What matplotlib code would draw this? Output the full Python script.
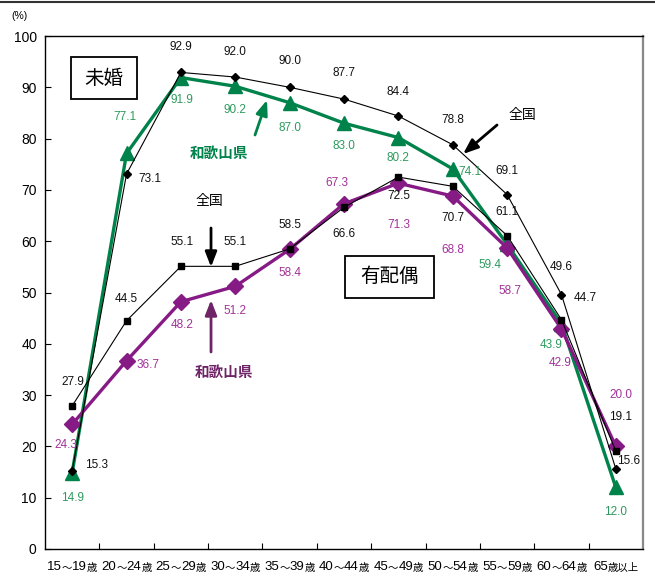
import matplotlib
matplotlib.use("Agg")
import matplotlib.pyplot as plt
from matplotlib.lines import Line2D
from matplotlib.patches import Rectangle

plt.rcParams['font.family'] = ['Liberation Sans', 'Noto Sans CJK JP', 'DejaVu Sans']

# age groups: start, end, suffix
age_from = ["15", "20", "25", "30", "35", "40", "45", "50", "55", "60", "65"]
age_to = ["19", "24", "29", "34", "39", "44", "49", "54", "59", "64", ""]
age_suffix = ["歳"] * 10 + ["歳以上"]

nat_unmarried = [15.3, 73.1, 92.9, 92.0, 90.0, 87.7, 84.4, 78.8, 69.1, 49.6, 15.6]
nat_married = [27.9, 44.5, 55.1, 55.1, 58.5, 66.6, 72.5, 70.7, 61.1, 44.7, 19.1]
wk_unmarried = [14.9, 77.1, 91.9, 90.2, 87.0, 83.0, 80.2, 74.1, 59.4, 43.9, 12.0]
wk_married = [24.3, 36.7, 48.2, 51.2, 58.4, 67.3, 71.3, 68.8, 58.7, 42.9, 20.0]

# label offsets in pixels (dx, dy) for each series
off_nat_un = [(24, 6), (23, -5), (0, 25), (0, 25), (0, 26), (0, 26), (0, 24), (0, 25), (0, 24), (0, 28), (13, 8)]
off_nat_ma = [(1, 24), (0, 22), (1, 24), (0, 24), (0, 24), (0, -27), (0, -19), (0, -32), (0, 24), (24, 22), (5, 34)]
off_wk_un = [(0, -25), (-2, 36), (1, -22), (0, -24), (0, -25), (0, -23), (0, -20), (17, -3), (-17, -21), (-10, -21), (0, -25)]
off_wk_ma = [(-6, -21), (21, -4), (1, -23), (0, -25), (0, -24), (-7, 21), (0, -42), (0, -54), (3, -43), (-1, -34), (5, 51)]

BLACK = "#000000"
GREEN = "#00834a"
GREEN_TXT = "#2e9a5e"
PURPLE = "#871b85"
PURPLE_TXT = "#a23299"
PURPLE_DARK = "#6f2468"

fig = plt.figure(figsize=(6.55, 5.77), dpi=100)
ax = fig.add_axes([45 / 655, 1 - 549 / 577, 598 / 655, 513 / 577])

x = list(range(len(age_from)))

ax.plot(x, wk_unmarried, color=GREEN, lw=2.4, marker="^", ms=10, zorder=3)
ax.plot(x, wk_married, color=PURPLE, lw=2.4, marker="D", ms=8.5, zorder=3)
ax.plot(x, nat_unmarried, color=BLACK, lw=0.8, marker="D", ms=4.2, zorder=4)
ax.plot(x, nat_married, color=BLACK, lw=0.8, marker="s", ms=5, zorder=4)


def label_series(vals, offs, color):
    for i, (v, (dx, dy)) in enumerate(zip(vals, offs)):
        ax.annotate(f"{v:.1f}", xy=(i, v), xytext=(dx, dy), textcoords="offset pixels",
                    ha="center", va="center", fontsize=8.5, color=color, zorder=6)


label_series(nat_unmarried, off_nat_un, "#111111")
label_series(nat_married, off_nat_ma, "#111111")
label_series(wk_unmarried, off_wk_un, GREEN_TXT)
label_series(wk_married, off_wk_ma, PURPLE_TXT)

ax.set_xlim(-0.5, len(x) - 0.5)
ax.set_ylim(0, 100)
ax.set_yticks(range(0, 101, 10))
ax.tick_params(axis="y", direction="in", length=4, labelsize=10, pad=6)
ax.set_xticks([i + 0.5 for i in range(len(x) - 1)])
ax.set_xticklabels([])
ax.tick_params(axis="x", direction="in", length=4)

for s in ["left", "bottom", "top"]:
    ax.spines[s].set_linewidth(1.0)
ax.spines["right"].set_color("#888888")
ax.spines["right"].set_linewidth(1.6)

# x axis labels built from pieces of different sizes, centred under each group
renderer = fig.canvas.get_renderer()
for i, (a, b, s) in enumerate(zip(age_from, age_to, age_suffix)):
    parts = [(a, 9.5, 0)]
    if b:
        parts += [("～", 7.5, 0), (b, 9.5, 0)]
    parts.append((s, 7.5, -1))
    texts = []
    for txt, size, dy in parts:
        t = ax.annotate(txt, xy=(i, 0), xycoords=("data", "axes fraction"), xytext=(0, -18 + dy),
                        textcoords="offset pixels", ha="left", va="center", fontsize=size)
        texts.append((t, dy))
    widths = [t.get_window_extent(renderer).width for t, _ in texts]
    pos = -sum(widths) / 2
    for (t, dy), w in zip(texts, widths):
        t.xyann = (pos, -18 + dy)
        pos += w

fig.text(20 / 655, 1 - 16 / 577, "(%)", fontsize=7.5, ha="center", va="center")


def px_to_data(px, py):
    return ((px - 45) / 54.36 - 0.5, (549 - py) / 5.13)


def boxed_title(text, x0, y0, x1, y1):
    bx, by = px_to_data(x0, y1)
    tx, ty = px_to_data(x1, y0)
    ax.add_patch(Rectangle((bx, by), tx - bx, ty - by, fc="white", ec="black", lw=1.3, zorder=7))
    ax.text(*px_to_data((x0 + x1) / 2, (y0 + y1) / 2), text, fontsize=14, ha="center",
            va="center", family=["Noto Sans CJK JP"], zorder=8)


boxed_title("未婚", 71, 57, 137, 99)
boxed_title("有配偶", 345, 256, 434, 298)

arrow_kw = dict(arrowstyle="-|>,head_length=0.9,head_width=0.35", lw=2.0, shrinkA=0, shrinkB=0)

# 和歌山県 (unmarried)
ax.text(*px_to_data(219, 153), "和歌山県", color=GREEN, fontsize=10.5, fontweight="bold",
        ha="center", va="center", family=["Noto Sans CJK JP"])
ax.annotate("", xy=px_to_data(267, 100), xytext=px_to_data(255, 135),
            arrowprops=dict(color=GREEN, **arrow_kw))

# 全国 (unmarried)
ax.text(*px_to_data(522, 115), "全国", color=BLACK, fontsize=10, ha="center", va="center",
        family=["Noto Sans CJK JP"])
ax.annotate("", xy=px_to_data(463, 154), xytext=px_to_data(497, 125),
            arrowprops=dict(color=BLACK, **arrow_kw))

# 全国 (married)
ax.text(*px_to_data(209, 201), "全国", color=BLACK, fontsize=10, ha="center", va="center",
        family=["Noto Sans CJK JP"])
ax.annotate("", xy=px_to_data(211, 267), xytext=px_to_data(211, 228),
            arrowprops=dict(color=BLACK, **arrow_kw))

# 和歌山県 (married)
ax.text(*px_to_data(224, 372), "和歌山県", color=PURPLE_DARK, fontsize=10.5, fontweight="bold",
        ha="center", va="center", family=["Noto Sans CJK JP"])
ax.annotate("", xy=px_to_data(211, 300), xytext=px_to_data(211, 352),
            arrowprops=dict(color=PURPLE_DARK, **arrow_kw))

fig.add_artist(Line2D([0, 1], [1 - 2 / 577, 1 - 2 / 577], transform=fig.transFigure,
                      color="#333333", lw=1.5))

fig.savefig("out.png", dpi=100)
